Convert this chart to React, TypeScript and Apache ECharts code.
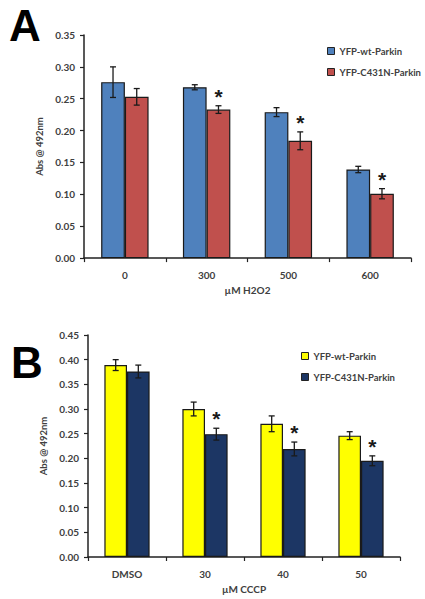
import React, { useEffect, useRef } from "react";
import * as echarts from "echarts";

// Panel A: H2O2 treatment
const doseH2O2 = ["0", "300", "500", "600"];
const wtH2O2 = [0.276, 0.268, 0.229, 0.139];
const wtH2O2Err = [0.024, 0.004, 0.007, 0.005];
const mutH2O2 = [0.253, 0.233, 0.184, 0.101];
const mutH2O2Err = [0.013, 0.006, 0.014, 0.008];
const sigH2O2 = [0, 1, 1, 1];

// Panel B: CCCP treatment
const doseCCCP = ["DMSO", "30", "40", "50"];
const wtCCCP = [0.389, 0.3, 0.27, 0.246];
const wtCCCPErr = [0.011, 0.014, 0.016, 0.008];
const mutCCCP = [0.376, 0.249, 0.219, 0.195];
const mutCCCPErr = [0.013, 0.012, 0.014, 0.01];
const sigCCCP = [0, 1, 1, 1];

const seriesNames = ["YFP-wt-Parkin", "YFP-C431N-Parkin"];

const FONT = "Lato";
const TXT = "#404040";

type Panel = {
  letter: string;
  cats: string[];
  wt: number[];
  wtErr: number[];
  mut: number[];
  mutErr: number[];
  sig: number[];
  colors: [string, string];
  yMax: number;
  xName: string;
  grid: { left: number; top: number; width: number; height: number };
  legend: { left: number; top: number };
  letterPos: { x: number; y: number };
};

const BAR_FRAC = 0.29;

function errSeries(vals: number[], errs: number[], sig: number[] | null, sign: number) {
  return {
    type: "custom",
    z: 5,
    silent: true,
    data: vals.map((v, i) => [i, v, errs[i], sig ? sig[i] : 0]),
    encode: { x: 0, y: 1 },
    renderItem: (params: any, api: any) => {
      const i = api.value(0);
      const v = api.value(1);
      const e = api.value(2);
      const s = api.value(3);
      const band = api.size([1, 0])[0];
      const c = api.coord([i, v]);
      const x = c[0] + sign * band * BAR_FRAC * 0.5;
      const top = api.coord([i, v + e])[1];
      const bot = api.coord([i, v - e])[1];
      const st = { stroke: "#1a1a1a", lineWidth: 1.3 };
      const children: any[] = [
        { type: "line", shape: { x1: x, y1: top, x2: x, y2: bot }, style: st },
        { type: "line", shape: { x1: x - 3, y1: top, x2: x + 3, y2: top }, style: st },
        { type: "line", shape: { x1: x - 3, y1: bot, x2: x + 3, y2: bot }, style: st },
      ];
      if (s) {
        children.push({
          type: "text",
          x: x,
          y: top + 1,
          style: {
            text: "*",
            fontSize: 21,
            fontWeight: "bold",
            fontFamily: "Liberation Sans",
            fill: "#1a1a1a",
            align: "center",
            verticalAlign: "bottom",
          },
        });
      }
      return { type: "group", children };
    },
  };
}

function buildOption(p: Panel) {
  return {
    animation: false,
    graphic: [
      {
        type: "text",
        x: p.letterPos.x,
        y: p.letterPos.y,
        style: {
          text: p.letter,
          fontSize: 44,
          fontWeight: "bold",
          fontFamily: "Liberation Sans",
          fill: "#000",
        },
      },
    ],
    legend: {
      orient: "vertical",
      left: p.legend.left,
      top: p.legend.top,
      itemWidth: 7,
      itemHeight: 7,
      itemGap: 11,
      icon: "rect",
      data: seriesNames,
      itemStyle: { borderColor: "#222", borderWidth: 1 },
      textStyle: { fontFamily: FONT, fontWeight: "bold", fontSize: 9.5, color: TXT },
    },
    grid: { ...p.grid },
    xAxis: {
      type: "category",
      data: p.cats,
      name: p.xName,
      nameLocation: "middle",
      nameGap: 22,
      nameTextStyle: { fontFamily: FONT, fontWeight: "bold", fontSize: 10, color: TXT },
      axisLine: { lineStyle: { color: "#222", width: 1.5 } },
      axisTick: { show: true, length: 4, lineStyle: { color: "#222", width: 1.2 } },
      axisLabel: { fontFamily: FONT, fontWeight: "bold", fontSize: 10, color: TXT, margin: 12 },
    },
    yAxis: {
      type: "value",
      min: 0,
      max: p.yMax,
      interval: 0.05,
      name: "Abs @ 492nm",
      nameLocation: "middle",
      nameRotate: 90,
      nameGap: 29,
      nameTextStyle: { fontFamily: FONT, fontWeight: "bold", fontSize: 9.5, color: TXT },
      splitLine: { show: false },
      axisLine: { show: true, lineStyle: { color: "#222", width: 1.5 } },
      axisTick: { show: true, length: 4, lineStyle: { color: "#222", width: 1.2 } },
      axisLabel: {
        fontFamily: FONT,
        fontWeight: "bold",
        fontSize: 10,
        color: TXT,
        margin: 9,
        formatter: (v: number) => v.toFixed(2),
      },
    },
    series: [
      {
        name: seriesNames[0],
        type: "bar",
        data: p.wt,
        barWidth: BAR_FRAC * 100 + "%",
        barGap: "0%",
        itemStyle: { color: p.colors[0], borderColor: "#1a1a1a", borderWidth: 1.2 },
      },
      {
        name: seriesNames[1],
        type: "bar",
        data: p.mut,
        barWidth: BAR_FRAC * 100 + "%",
        barGap: "0%",
        itemStyle: { color: p.colors[1], borderColor: "#1a1a1a", borderWidth: 1.2 },
      },
      errSeries(p.wt, p.wtErr, null, -1),
      errSeries(p.mut, p.mutErr, p.sig, 1),
    ],
  };
}

const panelA: Panel = {
  letter: "A",
  cats: doseH2O2,
  wt: wtH2O2,
  wtErr: wtH2O2Err,
  mut: mutH2O2,
  mutErr: mutH2O2Err,
  sig: sigH2O2,
  colors: ["#4f81bd", "#c0504d"],
  yMax: 0.35,
  xName: "µM H2O2",
  grid: { left: 84, top: 35, width: 327, height: 226 },
  legend: { left: 322, top: 41 },
  letterPos: { x: 9, y: 3 },
};

const panelB: Panel = {
  letter: "B",
  cats: doseCCCP,
  wt: wtCCCP,
  wtErr: wtCCCPErr,
  mut: mutCCCP,
  mutErr: mutCCCPErr,
  sig: sigCCCP,
  colors: ["#ffff00", "#1c3664"],
  yMax: 0.45,
  xName: "µM CCCP",
  grid: { left: 88, top: 35, width: 312, height: 222 },
  legend: { left: 296, top: 46 },
  letterPos: { x: 11, y: 40 },
};

function Chart({ panel, top, height }: { panel: Panel; top: number; height: number }) {
  const ref = useRef<HTMLDivElement>(null);
  useEffect(() => {
    if (!ref.current) return;
    const chart = echarts.init(ref.current, undefined, { renderer: "svg" });
    chart.setOption(buildOption(panel) as any);
    return () => chart.dispose();
  }, [panel]);
  return (
    <div
      ref={ref}
      style={{ position: "absolute", left: 0, top, width: 425, height, background: "#fff" }}
    />
  );
}

export default function App() {
  return (
    <div style={{ position: "absolute", left: 0, top: 0, width: 425, height: 599, background: "#fff" }}>
      <Chart panel={panelA} top={0} height={300} />
      <Chart panel={panelB} top={300} height={299} />
    </div>
  );
}
